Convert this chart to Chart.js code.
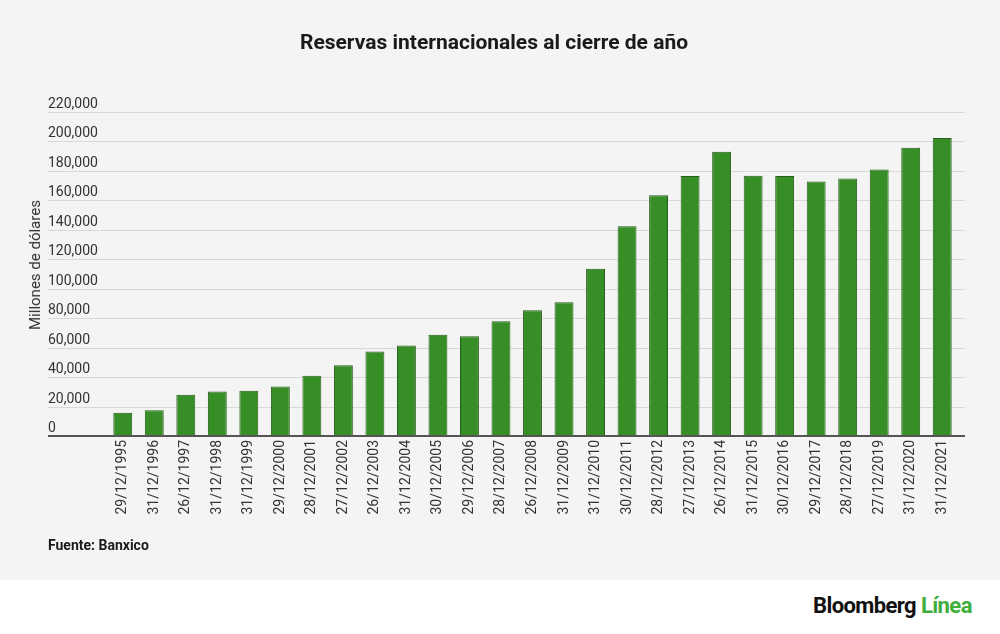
<!DOCTYPE html>
<html>
<head>
<meta charset="utf-8">
<script src="https://cdn.jsdelivr.net/npm/chart.js@4/dist/chart.umd.min.js"></script>
<style>
  html, body { margin: 0; padding: 0; background: #ffffff; }
  body { width: 1000px; height: 634px; position: relative; overflow: hidden; font-family: Roboto, "Noto Sans", sans-serif; }
  #panel { position: absolute; left: 0; top: 0; width: 1000px; height: 580px; background: #f4f4f4; }
  #wrap { position: absolute; left: 0; top: 0; width: 1000px; height: 580px; }
  #title { position: absolute; left: 0; width: 988px; top: 30px; text-align: center; font-weight: 700; font-size: 21px; color: #1a1a1a; }
  #ytitle { position: absolute; left: 35px; top: 265px; transform: translate(-50%, -50%) rotate(-90deg); white-space: nowrap; font-size: 15px; color: #333; }
  #source { position: absolute; left: 48px; top: 537px; font-weight: 700; font-size: 14px; color: #1a1a1a; }
  #logo { position: absolute; left: 813px; top: 593px; font-weight: 700; font-size: 22px; letter-spacing: -0.6px; color: #111; white-space: nowrap; }
  #logo span { color: #3fae3a; }
</style>
</head>
<body>
<div id="panel"></div>
<div id="wrap"><canvas id="c" width="1000" height="580"></canvas></div>
<div id="title">Reservas internacionales al cierre de año</div>
<div id="ytitle">Millones de dólares</div>
<div id="source">Fuente: Banxico</div>
<div id="logo">Bloomberg <span>Línea</span></div>
<script>
const categories = ["29/12/1995","31/12/1996","26/12/1997","31/12/1998","31/12/1999","29/12/2000","28/12/2001","27/12/2002","26/12/2003","31/12/2004","30/12/2005","29/12/2006","28/12/2007","26/12/2008","31/12/2009","31/12/2010","30/12/2011","28/12/2012","27/12/2013","26/12/2014","31/12/2015","30/12/2016","29/12/2017","28/12/2018","27/12/2019","31/12/2020","31/12/2021"];
const reservas = [15741,17509,28003,30140,30733,33555,40880,47984,57435,61496,68669,67680,77991,85441,90838,113597,142475,163515,176522,193045,176735,176542,172802,174792,180877,195667,202399];
const yMax = 220000;
const yStep = 20000;

const gridPlugin = {
  id: 'extGrid',
  beforeDatasetsDraw(chart) {
    const ctx = chart.ctx;
    const y = chart.scales.y;
    const x0 = 48, x1 = 965;
    ctx.save();
    ctx.font = '14px Roboto, "Noto Sans", sans-serif';
    ctx.fillStyle = '#333333';
    ctx.textAlign = 'left';
    ctx.textBaseline = 'alphabetic';
    y.ticks.forEach(t => {
      const py = Math.round(y.getPixelForValue(t.value)) + 0.5;
      if (t.value !== 0) {
        ctx.strokeStyle = '#d8d8d8';
        ctx.lineWidth = 1;
        ctx.beginPath(); ctx.moveTo(x0, py); ctx.lineTo(x1, py); ctx.stroke();
      }
      ctx.fillText(t.value.toLocaleString('en-US'), x0, py - 4.5);
    });
    ctx.restore();
  },
  afterDatasetsDraw(chart) {
    const ctx = chart.ctx;
    const y = chart.scales.y;
    const py = y.getPixelForValue(0);
    ctx.save();
    ctx.strokeStyle = '#555555';
    ctx.lineWidth = 2;
    ctx.beginPath(); ctx.moveTo(48, py); ctx.lineTo(965, py); ctx.stroke();
    ctx.restore();
  }
};

new Chart(document.getElementById('c'), {
  type: 'bar',
  data: {
    labels: categories,
    datasets: [{
      data: reservas,
      backgroundColor: '#388e26',
      borderColor: '#245f18',
      borderWidth: 1,
      categoryPercentage: 1,
      barPercentage: 0.6
    }]
  },
  options: {
    responsive: false,
    animation: false,
    devicePixelRatio: 1,
    layout: { padding: { left: 107, right: 42, top: 112, bottom: 0 } },
    plugins: { legend: { display: false }, tooltip: { enabled: false }, title: { display: false } },
    scales: {
      x: {
        grid: { display: false, drawTicks: false },
        border: { display: false },
        ticks: {
          autoSkip: false, minRotation: 90, maxRotation: 90, padding: 4,
          color: '#333333', font: { family: 'Roboto, "Noto Sans", sans-serif', size: 14 }
        },
        afterFit(scale) { scale.height = 144; }
      },
      y: {
        display: false,
        min: 0, max: yMax,
        ticks: { stepSize: yStep }
      }
    }
  },
  plugins: [gridPlugin]
});
</script>
</body>
</html>
